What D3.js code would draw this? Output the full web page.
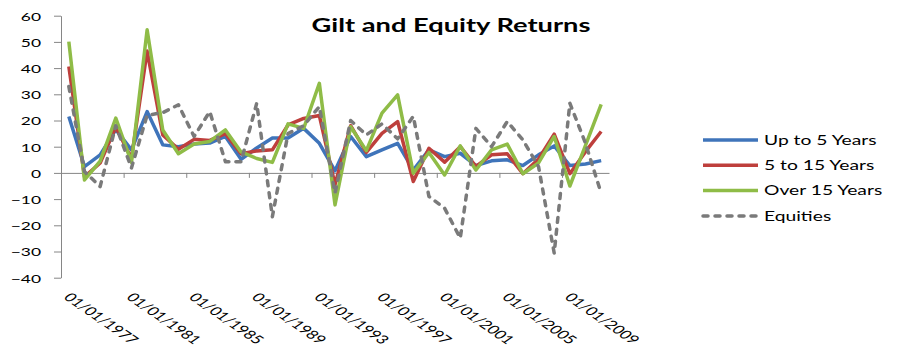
<!DOCTYPE html>
<html>
<head>
<meta charset="utf-8">
<script src="https://cdn.jsdelivr.net/npm/d3@7"></script>
<style>
  body { margin: 0; background: #fff; }
  text { font-family: Lato, "Liberation Sans", sans-serif; fill: #000; }
</style>
</head>
<body>
<svg id="chart" width="902" height="358"></svg>
<script>
const years = d3.range(1977, 2012);
const dateLabels = ["01/01/1977", "01/01/1981", "01/01/1985", "01/01/1989", "01/01/1993",
    "01/01/1997", "01/01/2001", "01/01/2005", "01/01/2009"];
const yTicks = [-40, -30, -20, -10, 0, 10, 20, 30, 40, 50, 60];

const upTo5 = [21.5, 2.4, 6.9, 16.5, 8.8, 23.4, 10.7, 10, 11, 11.4, 13.9, 5.2, 9.5, 13.3, 13.3, 17, 11.3, 0.8,
    13.9, 6.2, 8.8, 11.3, 1.1, 8.8, 6.2, 7.5, 2.8, 4.6, 5, 2.8, 6.9, 10.3, 2.8, 3.4, 4.7];
const from5to15 = [40.6, -1.5, 3.8, 17.5, 5.5, 46.5, 14.5, 9, 12.8, 12.4, 15, 7.3, 8.4, 8.8, 18.3, 20.8, 21.9, -4.5,
    18, 7.8, 15.1, 19.6, -3.3, 9.4, 4.1, 10, 2.5, 6.9, 7.3, -0.3, 5.3, 14.8, -0.3, 8.1, 15.8];
const over15 = [50.1, -2.7, 4.5, 20.9, 4, 54.6, 16.4, 7.3, 11, 12, 16.4, 8, 5.5, 4, 18.7, 17, 34.2, -12.2,
    17.6, 8.5, 22.8, 29.8, -0.1, 7.8, -0.8, 10.3, 1.1, 8.8, 11, -0.3, 3.8, 13.9, -5, 10.5, 26.2];
const equities = [33, 0.5, -5.2, 18, 1.9, 22, 23, 26, 13.9, 23.4, 4.3, 4.3, 26.6, -16.7, 15, 18, 25.3, -7.7,
    20, 14.5, 18.7, 13, 21.6, -9, -13.5, -24.9, 17, 10, 19.6, 12.6, 2.4, -30.6, 26.6, 11.3, -7.8];

const series = [
    {name: "Up to 5 Years", values: upTo5, color: "#3f74ba", dash: null},
    {name: "5 to 15 Years", values: from5to15, color: "#be3f3c", dash: null},
    {name: "Over 15 Years", values: over15, color: "#8fbc47", dash: null},
    {name: "Equities", values: equities, color: "#7a7a7a", dash: "5,7"}
];

// the original picture is stretched sideways, so text gets the same stretch
const TX = 1.45;

const svg = d3.select("#chart");
const plotLeft = 61, plotRight = 609, plotTop = 15.7, plotBottom = 277.7;

const x = d3.scaleBand().domain(years).range([plotLeft, plotRight]).padding(0);
const xEdge = d3.scaleLinear().domain([0, years.length]).range([plotLeft, plotRight]);
const y = d3.scaleLinear().domain([-40, 60]).range([plotBottom, plotTop]);

// y axis
const yAxis = svg.append("g")
    .attr("transform", `translate(${plotLeft},0)`)
    .call(d3.axisLeft(y).tickValues(yTicks).tickSizeInner(7).tickSizeOuter(0).tickFormat(d3.format("d")));
yAxis.select(".domain").attr("stroke", "#868686");
yAxis.selectAll(".tick line").attr("stroke", "#868686");
yAxis.selectAll(".tick text")
    .attr("x", null).attr("dy", null)
    .attr("transform", `translate(-20,4.3) scale(${TX},1)`)
    .style("font-size", "12px")
    .attr("fill", "#000");

// x axis along zero
const xAxis = svg.append("g")
    .attr("transform", `translate(0,${y(0)})`)
    .call(d3.axisBottom(xEdge).tickValues(d3.range(4, years.length, 4)).tickSizeInner(5).tickSizeOuter(0).tickFormat(""));
xAxis.select(".domain").attr("stroke", "#868686");
xAxis.selectAll(".tick line").attr("stroke", "#868686");

// date labels sit under the bottom of the plot, one per 4 years
svg.append("g").selectAll("text")
    .data(dateLabels)
    .enter().append("text")
    .attr("transform", d => `translate(${x(+d.slice(6)) + x.bandwidth() / 2 - 6},298) scale(${TX},1) rotate(45)`)
    .style("font-size", "12px")
    .text(d => d);

// lines
const line = d3.line()
    .x((d, i) => x(years[i]) + x.bandwidth() / 2)
    .y(d => y(d));

series.forEach(s => {
    svg.append("path")
        .datum(s.values)
        .attr("fill", "none")
        .attr("stroke", s.color)
        .attr("stroke-width", 3.5)
        .attr("stroke-linejoin", "round")
        .attr("stroke-linecap", s.dash ? "round" : "butt")
        .attr("stroke-dasharray", s.dash)
        .attr("d", line);
});

// title
svg.append("text")
    .attr("transform", `translate(451,31.5) scale(${TX},1)`)
    .attr("text-anchor", "middle")
    .style("font-size", "18.8px")
    .style("font-weight", "bold")
    .text("Gilt and Equity Returns");

// legend
const legend = svg.append("g").attr("transform", "translate(703,140)");
series.forEach((s, i) => {
    const row = legend.append("g").attr("transform", `translate(0,${i * 25.3})`);
    row.append("line")
        .attr("x1", 0).attr("x2", 55)
        .attr("stroke", s.color)
        .attr("stroke-width", 3.5)
        .attr("stroke-linecap", s.dash ? "round" : "butt")
        .attr("stroke-dasharray", s.dash);
    row.append("text")
        .attr("transform", `translate(61,4.6) scale(${TX},1)`)
        .style("font-size", "13.3px")
        .text(s.name);
});
</script>
</body>
</html>
